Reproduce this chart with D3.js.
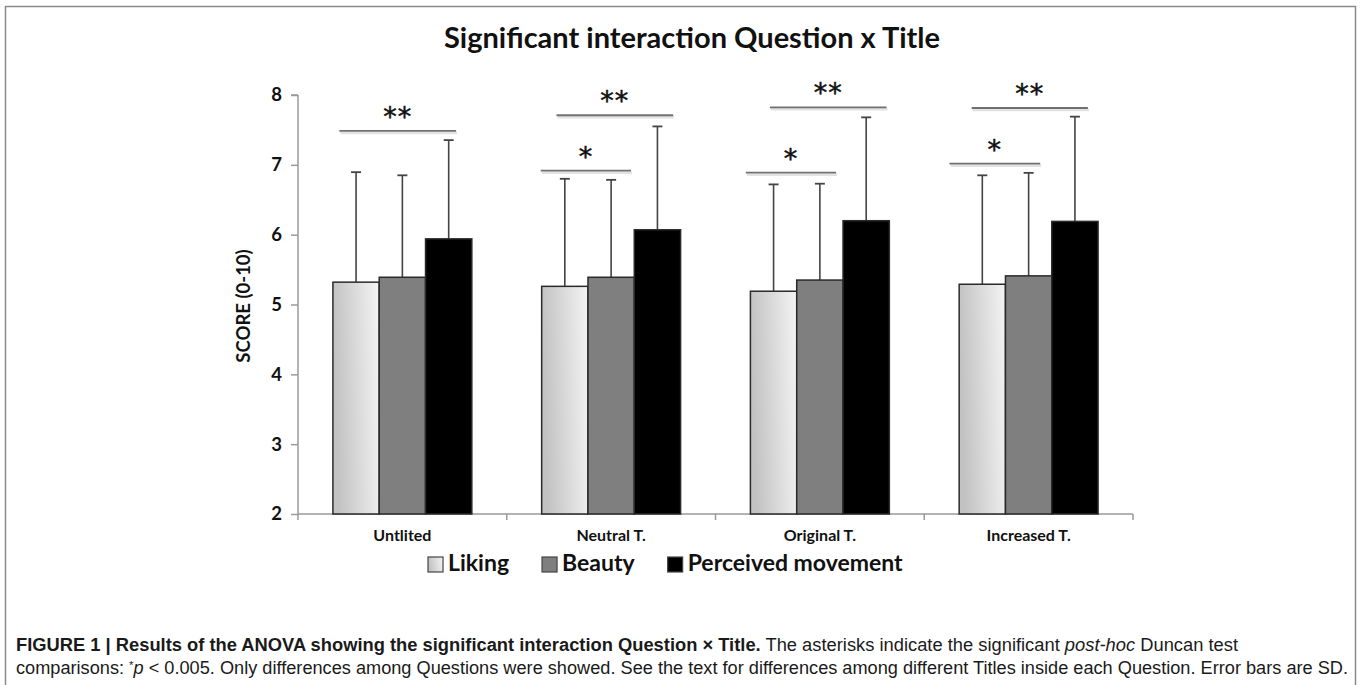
<!DOCTYPE html>
<html>
<head>
<meta charset="utf-8">
<script src="https://cdn.jsdelivr.net/npm/d3@7/dist/d3.min.js"></script>
<style>
  html, body { margin: 0; padding: 0; background: #fff; }
  svg { display: block; }
</style>
</head>
<body>
<svg id="chart" width="1360" height="685"></svg>
<script>
// ---------------- data ----------------
const categories = ["Untlited", "Neutral T.", "Original T.", "Increased T."];
const seriesNames = ["Liking", "Beauty", "Perceived movement"];
const liking   = [5.32, 5.26, 5.19, 5.29];
const beauty   = [5.39, 5.39, 5.35, 5.41];
const movement = [5.94, 6.07, 6.20, 6.19];
const likingSD   = [1.575, 1.54, 1.53, 1.56];
const beautySD   = [1.46, 1.395, 1.38, 1.475];
const movementSD = [1.414, 1.48, 1.48, 1.50];
const yTicks = [2, 3, 4, 5, 6, 7, 8];
// significance brackets: category, span in bar units (0 = left edge of first bar), level, label
const bracketCat   = ["Untlited", "Neutral T.", "Neutral T.", "Original T.", "Original T.", "Increased T.", "Increased T."];
const bracketFrom  = [0.14, -0.02, 0.32, -0.10, 0.42, -0.21, 0.27];
const bracketTo    = [2.66, 1.93, 2.84, 1.85, 2.94, 1.75, 2.78];
const bracketLevel = [7.485, 6.916, 7.71, 6.888, 7.824, 7.017, 7.814];
const bracketLabel = ["**", "*", "**", "*", "**", "*", "**"];
const titleText = "Significant interaction Question x Title";
const yLabel = "SCORE (0-10)";

const values = [liking, beauty, movement];
const sds = [likingSD, beautySD, movementSD];

// ---------------- setup ----------------
const svg = d3.select("#chart");
const FONT = "Lato, 'Open Sans', sans-serif";

const defs = svg.append("defs");
const grad = defs.append("linearGradient").attr("id", "lightGrad")
  .attr("x1", "0").attr("y1", "0.15").attr("x2", "1").attr("y2", "0");
grad.append("stop").attr("offset", "0%").attr("stop-color", "#c2c2c2");
grad.append("stop").attr("offset", "100%").attr("stop-color", "#f4f4f4");
const fills = ["url(#lightGrad)", "#7f7f7f", "#000000"];

// frame
svg.append("path")
  .attr("d", "M5.5,700 L5.5,6.5 L1355.5,6.5 L1355.5,700")
  .attr("fill", "none").attr("stroke", "#8a8a8a").attr("stroke-width", 1.5);

// title
svg.append("text")
  .attr("x", 692).attr("y", 48)
  .attr("text-anchor", "middle")
  .attr("font-family", FONT).attr("font-weight", 700).attr("font-size", 29)
  .attr("fill", "#111")
  .text(titleText);

// scales
const x = d3.scaleBand().domain(categories).range([298, 1133]).paddingInner(0).paddingOuter(0);
const x1 = d3.scaleBand().domain(seriesNames).range([0, x.bandwidth()]).paddingInner(0).paddingOuter(0.754);
const y = d3.scaleLinear().domain([2, 8]).range([514, 95]);

// y axis
const yAxis = svg.append("g").attr("transform", "translate(298,0)")
  .call(d3.axisLeft(y).tickValues(yTicks).tickSize(7).tickPadding(9).tickFormat(d3.format("d")));
yAxis.select(".domain").attr("stroke", "#9a9a9a").attr("stroke-width", 1.5)
  .attr("d", `M0,${y(2)}V${y(8)}M-7,${y(8)}H0`);
yAxis.selectAll(".tick line").attr("stroke", "#9a9a9a").attr("stroke-width", 1.5);
yAxis.selectAll(".tick text")
  .attr("font-family", FONT).attr("font-weight", 700).attr("font-size", 18.5)
  .attr("fill", "#111");

// x axis (ticks at group boundaries)
const boundaries = categories.map(c => x(c)).concat([x(categories[categories.length - 1]) + x.bandwidth()]);
const xAx = svg.append("g");
xAx.append("line").attr("x1", 298).attr("x2", 1133).attr("y1", y(2)).attr("y2", y(2))
  .attr("stroke", "#9a9a9a").attr("stroke-width", 1.5);
xAx.selectAll("line.tk").data(boundaries).join("line").attr("class", "tk")
  .attr("x1", d => d).attr("x2", d => d).attr("y1", y(2)).attr("y2", y(2) + 6)
  .attr("stroke", "#9a9a9a").attr("stroke-width", 1.5);
xAx.selectAll("text").data(categories).join("text")
  .attr("x", d => x(d) + x.bandwidth() / 2).attr("y", 541)
  .attr("text-anchor", "middle")
  .attr("font-family", FONT).attr("font-weight", 700).attr("font-size", 16)
  .attr("fill", "#111")
  .text(d => d);

// y label
svg.append("text")
  .attr("transform", `translate(250,${306}) rotate(-90)`)
  .attr("text-anchor", "middle")
  .attr("font-family", FONT).attr("font-weight", 700).attr("font-size", 18.5)
  .attr("fill", "#111")
  .text(yLabel);

// bars
const barData = [];
categories.forEach((c, i) => {
  seriesNames.forEach((s, j) => {
    barData.push({ cat: c, ser: s, j: j, v: values[j][i], sd: sds[j][i] });
  });
});

const gBars = svg.append("g");
// error bars (drawn behind bars)
gBars.selectAll("line.err").data(barData).join("line").attr("class", "err")
  .attr("x1", d => x(d.cat) + x1(d.ser) + x1.bandwidth() / 2)
  .attr("x2", d => x(d.cat) + x1(d.ser) + x1.bandwidth() / 2)
  .attr("y1", d => y(d.v)).attr("y2", d => y(d.v + d.sd))
  .attr("stroke", "#444").attr("stroke-width", 1.6);
gBars.selectAll("line.cap").data(barData).join("line").attr("class", "cap")
  .attr("x1", d => x(d.cat) + x1(d.ser) + x1.bandwidth() / 2 - 5)
  .attr("x2", d => x(d.cat) + x1(d.ser) + x1.bandwidth() / 2 + 5)
  .attr("y1", d => y(d.v + d.sd)).attr("y2", d => y(d.v + d.sd))
  .attr("stroke", "#444").attr("stroke-width", 1.8);
gBars.selectAll("rect.bar").data(barData).join("rect").attr("class", "bar")
  .attr("x", d => x(d.cat) + x1(d.ser))
  .attr("y", d => y(d.v))
  .attr("width", x1.bandwidth())
  .attr("height", d => y(2) - y(d.v))
  .attr("fill", d => fills[d.j])
  .attr("stroke", "#2a2a2a").attr("stroke-width", 1.5);

// significance brackets
const bData = bracketCat.map((c, i) => ({
  x0: x(c) + x1(seriesNames[0]) + bracketFrom[i] * x1.bandwidth(),
  x1: x(c) + x1(seriesNames[0]) + bracketTo[i] * x1.bandwidth(),
  yy: y(bracketLevel[i]),
  label: bracketLabel[i]
}));
const gBr = svg.append("g");
gBr.selectAll("line.shadow").data(bData).join("line").attr("class", "shadow")
  .attr("x1", d => d.x0 + 1).attr("x2", d => d.x1 + 1)
  .attr("y1", d => d.yy + 2).attr("y2", d => d.yy + 2)
  .attr("stroke", "#e2e2e2").attr("stroke-width", 2.5);
gBr.selectAll("line.br").data(bData).join("line").attr("class", "br")
  .attr("x1", d => d.x0).attr("x2", d => d.x1)
  .attr("y1", d => d.yy).attr("y2", d => d.yy)
  .attr("stroke", "#707070").attr("stroke-width", 1.8);
gBr.selectAll("text").data(bData).join("text")
  .attr("x", d => (d.x0 + d.x1) / 2).attr("y", d => d.yy - 5)
  .attr("text-anchor", "middle")
  .attr("font-family", "'DejaVu Sans', sans-serif").attr("font-size", 27)
  .attr("letter-spacing", 1)
  .attr("fill", "#111").attr("stroke", "#111").attr("stroke-width", 0.5)
  .text(d => d.label);

// legend
const legend = svg.append("g");
let lx = 428;
seriesNames.forEach((s, j) => {
  legend.append("rect")
    .attr("x", lx).attr("y", 557).attr("width", 15).attr("height", 15)
    .attr("fill", fills[j]).attr("stroke", "#444").attr("stroke-width", 1.2);
  const t = legend.append("text")
    .attr("x", lx + 20).attr("y", 571)
    .attr("font-family", FONT).attr("font-weight", 700).attr("font-size", 23)
    .attr("fill", "#111")
    .text(s);
  lx += 20 + t.node().getComputedTextLength() + 33;
});

// caption
const CAP = "'Liberation Sans Narrow', 'Liberation Sans', Arial, sans-serif";
const cap1 = svg.append("text").attr("x", 16).attr("y", 651)
  .attr("font-family", CAP).attr("font-size", 17.5).attr("fill", "#1a1a1a")
  .attr("textLength", 1222).attr("lengthAdjust", "spacingAndGlyphs");
cap1.append("tspan").attr("font-weight", 700).text("FIGURE 1 | Results of the ANOVA showing the significant interaction Question \u00d7 Title.");
cap1.append("tspan").text(" The asterisks indicate the significant ");
cap1.append("tspan").attr("font-style", "italic").text("post-hoc");
cap1.append("tspan").text(" Duncan test");

const cap2 = svg.append("text").attr("x", 16).attr("y", 674)
  .attr("font-family", CAP).attr("font-size", 17.5).attr("fill", "#1a1a1a")
  .attr("textLength", 1332).attr("lengthAdjust", "spacingAndGlyphs");
cap2.append("tspan").text("comparisons: ");
cap2.append("tspan").attr("font-size", 11).attr("dy", -5).text("*");
cap2.append("tspan").attr("font-style", "italic").attr("dy", 5).text("p");
cap2.append("tspan").text(" < 0.005. Only differences among Questions were showed. See the text for differences among different Titles inside each Question. Error bars are SD.");
</script>
</body>
</html>
